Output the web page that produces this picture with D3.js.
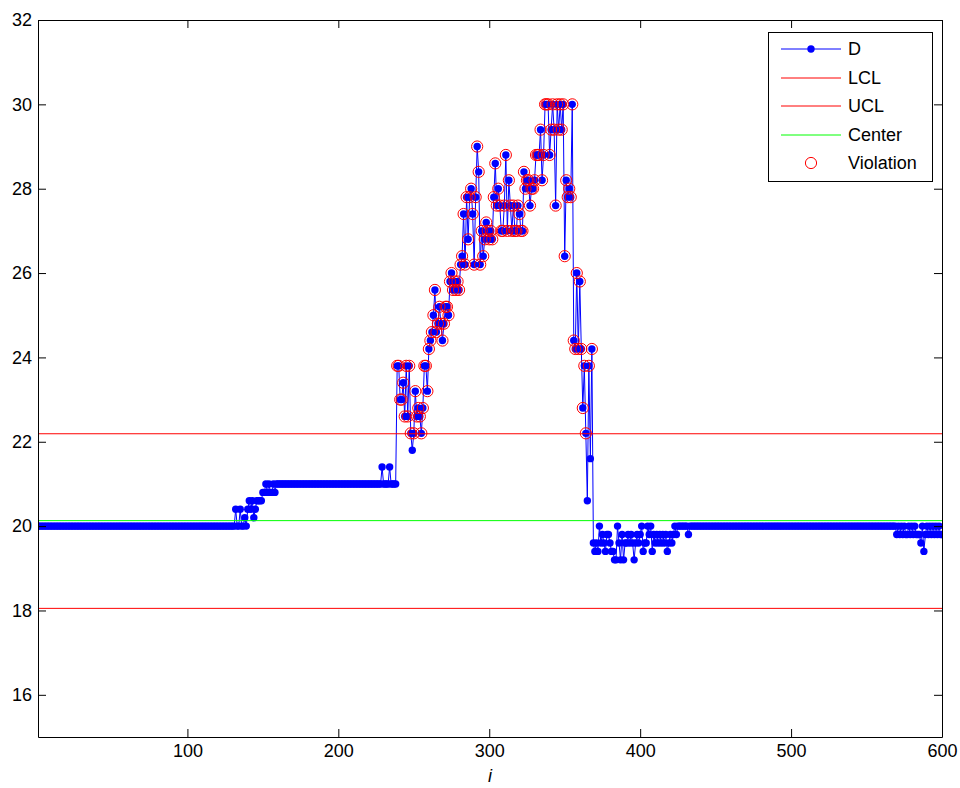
<!DOCTYPE html>
<html>
<head>
<meta charset="utf-8">
<script src="https://cdn.jsdelivr.net/npm/d3@7"></script>
<style>
  html, body { margin: 0; padding: 0; background: #fff; }
  svg { display: block; font-family: "Liberation Sans", Arial, Helvetica, sans-serif; }
</style>
</head>
<body>
<div id="chart"></div>
<script>
// control limits
const LCL = 18.05;
const UCL = 22.19;
const CENTER = 20.13;

const X_TICKS = [100, 200, 300, 400, 500, 600];
const Y_TICKS = [16, 18, 20, 22, 24, 26, 28, 30, 32];

// D series, sample by sample (i = 1..600)
// i 132..159 : first small step
const rampD = [20.4, 20, 20, 20.4, 20, 20, 20.2, 20, 20.4, 20.6, 20.4, 20.6, 20.2, 20.4,
  20.6, 20.6, 20.6, 20.6, 20.8, 20.8, 21, 20.8, 21, 20.8, 20.8, 21, 20.8, 21];
// i 160..238 : plateau at 21 with two bumps
const plateauBumps = { 229: 21.4, 234: 21.4 };
// i 239..370 : the excursion
const peakD = [
  23.8, 23.8, 23.0, 23.0, 23.4, 22.6, 23.8, 22.6, 23.8, 22.2, // 239-248
  21.8, 22.2, 23.2, 22.6, 22.8, 22.6, 22.2, 22.8, 23.8, 23.8, // 249-258
  23.2, 24.2, 24.4, 24.6, 25.0, 25.6, 24.6, 24.8, 25.2, 24.8, // 259-268
  24.4, 24.8, 25.2, 25.2, 25.0, 25.8, 26.0, 25.6, 25.8, 25.6, // 269-278
  25.8, 25.6, 26.2, 26.4, 27.4, 26.2, 27.8, 26.8, 27.8, 28.0, // 279-288
  27.4, 26.2, 27.8, 29.0, 28.4, 26.2, 27.0, 26.4, 26.8, 27.2, // 289-298
  27.0, 26.8, 27.0, 26.8, 27.8, 28.6, 27.6, 28.0, 27.6, 27.0, // 299-308
  27.0, 27.6, 28.8, 27.0, 28.2, 27.6, 27.0, 27.6, 27.0, 27.0, // 309-318
  27.6, 27.4, 27.0, 27.0, 28.4, 28.0, 28.2, 28.2, 27.6, 28.0, // 319-328
  28.0, 28.2, 28.8, 28.8, 28.8, 29.4, 28.2, 28.8, 30.0, 30.0, // 329-338
  30.0, 28.8, 29.4, 30.0, 29.4, 27.6, 30.0, 29.4, 30.0, 29.4, // 339-348
  30.0, 26.4, 28.2, 27.8, 28.0, 27.8, 30.0, 24.4, 24.2, 26.0, // 349-358
  24.2, 25.8, 24.2, 22.8, 23.8, 22.2, 20.6, 23.8, 21.6, 24.2, // 359-368
  19.6, 19.4                                                  // 369-370
];
// i 371..432 : dip just below the centre
const dipD = [
  19.6, 19.4, 20.0, 19.6, 19.8, 19.6, 19.4, 19.8, 19.8, 19.6,
  19.4, 19.4, 19.2, 19.2, 20.0, 19.6, 19.2, 19.8, 19.2, 19.6,
  19.6, 19.8, 19.6, 19.8, 19.6, 19.2, 19.6, 19.8, 19.6, 19.8,
  20.0, 19.4, 19.6, 19.6, 20.0, 19.8, 20.0, 19.4, 19.8, 19.6,
  19.8, 19.6, 19.8, 19.6, 19.8, 19.6, 19.8, 19.4, 19.6, 19.8,
  19.6, 19.8, 20.0, 19.8, 20.0, 20.0, 20.0, 20.0, 20.0, 20.0,
  20.0, 19.8
];
// i 570..600 : noisy tail
const tailD = [
  19.8, 20.0, 19.8, 20.0, 19.8, 20.0, 19.8, 19.8, 20.0, 19.8,
  20.0, 19.8, 20.0, 19.8, 19.8, 19.8, 19.6, 20.0, 19.4, 19.8,
  20.0, 19.8, 20.0, 19.8, 20.0, 19.8, 20.0, 19.8, 20.0, 19.8, 19.8
];

// assemble the full series
const D = [];
for (let i = 1; i <= 131; i++) D.push(20);
rampD.forEach(v => D.push(v));
for (let i = 160; i <= 238; i++) D.push(plateauBumps[i] || 21);
peakD.forEach(v => D.push(v));
dipD.forEach(v => D.push(v));
for (let i = 433; i <= 569; i++) D.push(20);
tailD.forEach(v => D.push(v));

const points = D.map((v, k) => ({ i: k + 1, v }));
const violations = points.filter(d => d.v > UCL || d.v < LCL);

// ---- layout ----
const width = 960, height = 788;
const margin = { top: 20, right: 18, bottom: 51, left: 38 };
const innerW = width - margin.left - margin.right;
const innerH = height - margin.top - margin.bottom;

const svg = d3.select("#chart").append("svg")
  .attr("width", width)
  .attr("height", height);

svg.append("rect").attr("width", width).attr("height", height).attr("fill", "#fff");

const g = svg.append("g").attr("transform", `translate(${margin.left},${margin.top})`);

const x = d3.scaleLinear().domain([1, 600]).range([0, innerW]);
const y = d3.scaleLinear().domain([15, 32]).range([innerH, 0]);

g.append("clipPath").attr("id", "clip")
  .append("rect").attr("width", innerW).attr("height", innerH);

const plot = g.append("g").attr("clip-path", "url(#clip)");

// D line + markers
plot.append("path")
  .datum(points)
  .attr("fill", "none")
  .attr("stroke", "#0000ff")
  .attr("stroke-width", 1)
  .attr("d", d3.line().x(d => x(d.i)).y(d => y(d.v)));

plot.selectAll(".dot")
  .data(points)
  .join("circle")
  .attr("class", "dot")
  .attr("cx", d => x(d.i))
  .attr("cy", d => y(d.v))
  .attr("r", 3.7)
  .attr("fill", "#0000ff");

// limit lines
const limits = [
  { v: LCL, color: "#ff0000" },
  { v: UCL, color: "#ff0000" },
  { v: CENTER, color: "#00ff00" }
];
plot.selectAll(".limit")
  .data(limits)
  .join("line")
  .attr("class", "limit")
  .attr("x1", 0).attr("x2", innerW)
  .attr("y1", d => y(d.v)).attr("y2", d => y(d.v))
  .attr("stroke", d => d.color)
  .attr("stroke-width", 1);

// violations
plot.selectAll(".viol")
  .data(violations)
  .join("circle")
  .attr("class", "viol")
  .attr("cx", d => x(d.i))
  .attr("cy", d => y(d.v))
  .attr("r", 5.6)
  .attr("fill", "none")
  .attr("stroke", "#ff0000")
  .attr("stroke-width", 1);

// ---- axes (matlab style box, ticks inward) ----
const styleAxis = sel => {
  sel.select(".domain").attr("stroke", "#000");
  sel.selectAll(".tick line").attr("stroke", "#000");
  sel.selectAll("text").attr("font-size", 18).attr("fill", "#000")
    .attr("font-family", "'Liberation Sans', Arial, Helvetica, sans-serif");
};

g.append("g")
  .attr("transform", `translate(0,${innerH})`)
  .call(d3.axisBottom(x).tickValues(X_TICKS).tickSizeInner(-8).tickSizeOuter(0).tickPadding(7))
  .call(styleAxis);

g.append("g")
  .call(d3.axisTop(x).tickValues(X_TICKS).tickSizeInner(-8).tickSizeOuter(0).tickFormat(""))
  .call(styleAxis);

g.append("g")
  .call(d3.axisLeft(y).tickValues(Y_TICKS).tickSizeInner(-8).tickSizeOuter(0).tickPadding(6))
  .call(styleAxis);

g.append("g")
  .attr("transform", `translate(${innerW},0)`)
  .call(d3.axisRight(y).tickValues(Y_TICKS).tickSizeInner(-8).tickSizeOuter(0).tickFormat(""))
  .call(styleAxis);

// x label
g.append("text")
  .attr("x", innerW / 2)
  .attr("y", innerH + 45)
  .attr("text-anchor", "middle")
  .attr("font-size", 18)
  .attr("font-style", "italic")
  .text("i");

// ---- legend ----
const legendItems = [
  { label: "D", kind: "lineDot", color: "#0000ff" },
  { label: "LCL", kind: "line", color: "#ff0000" },
  { label: "UCL", kind: "line", color: "#ff0000" },
  { label: "Center", kind: "line", color: "#00ff00" },
  { label: "Violation", kind: "ring", color: "#ff0000" }
];

const legend = svg.append("g").attr("transform", "translate(768,32)");
legend.append("rect")
  .attr("x", 0.5).attr("y", 0.5)
  .attr("width", 164).attr("height", 149)
  .attr("fill", "#fff").attr("stroke", "#000").attr("stroke-width", 1);

const rows = legend.selectAll(".row")
  .data(legendItems)
  .join("g")
  .attr("class", "row")
  .attr("transform", (d, k) => `translate(0,${Math.round(17 + k * 28.5)})`);

rows.filter(d => d.kind !== "ring").append("line")
  .attr("x1", 13).attr("x2", 73)
  .attr("stroke", d => d.color).attr("stroke-width", 1);

rows.filter(d => d.kind === "lineDot").append("circle")
  .attr("cx", 43).attr("r", 3.7).attr("fill", d => d.color);

rows.filter(d => d.kind === "ring").append("circle")
  .attr("cx", 43).attr("r", 5.6).attr("fill", "none")
  .attr("stroke", d => d.color).attr("stroke-width", 1);

rows.append("text")
  .attr("x", 80)
  .attr("dy", "0.35em")
  .attr("font-size", 18)
  .text(d => d.label);
</script>
</body>
</html>
